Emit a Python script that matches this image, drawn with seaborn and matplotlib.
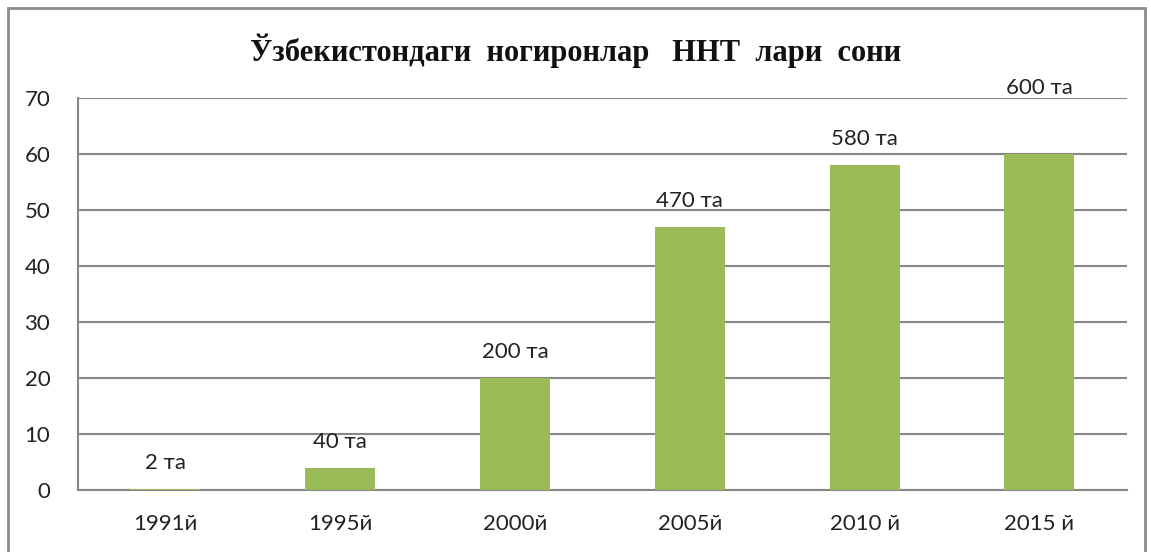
import matplotlib
matplotlib.use("Agg")
import matplotlib.pyplot as plt
import seaborn as sns
import pandas as pd
from matplotlib.patches import Rectangle

years = ["1991й", "1995й", "2000й", "2005й", "2010 й", "2015 й"]
values = [0.2, 4, 20, 47, 58, 60]
labels = ["2 та", "40 та", "200 та", "470 та", "580 та", "600 та"]

df = pd.DataFrame({"year": years, "value": values})

sns.set_theme(style="white")
plt.rcParams["font.family"] = ["Lato", "DejaVu Sans"]

fig = plt.figure(figsize=(11.51, 5.52), dpi=100)
ax = fig.add_axes([0.0678, 0.1123, 0.9112, 0.7102])

sns.barplot(data=df, x="year", y="value", color="#9BBB59", width=0.4,
            saturation=1, linewidth=0, ax=ax, zorder=3)

ax.set_ylim(0, 70)
ax.set_yticks(range(0, 71, 10))
ax.yaxis.grid(True, color="#868686", linewidth=1.5, zorder=0)
ax.set_axisbelow(True)
ax.set_xlabel("")
ax.set_ylabel("")
for s in ["top", "right"]:
    ax.spines[s].set_visible(False)
for s in ["left", "bottom"]:
    ax.spines[s].set_color("#868686")
    ax.spines[s].set_linewidth(1.5)
ax.tick_params(axis="y", length=0, pad=20, labelsize=16, colors="#222222")
ax.tick_params(axis="x", length=0, pad=17, labelsize=16, colors="#222222")

for i, (v, lab) in enumerate(zip(values, labels)):
    y = v + 4.6
    if i == len(values) - 1:
        y = 71.8
    ax.text(i, y, lab, ha="center", va="center", fontsize=16,
            color="#222222", clip_on=False)

fig.text(0.5, 0.908, "Ўзбекистондаги  ногиронлар   ННТ  лари  сони",
         ha="center", va="center", fontsize=22, fontweight="bold",
         family=["Liberation Serif", "DejaVu Serif"], color="#111111")

fig.patches.append(Rectangle((8 / 1151, -0.05), (1145 - 8) / 1151, 1.05 - 8 / 552,
                             transform=fig.transFigure, fill=False,
                             edgecolor="#8c8c8c", linewidth=2))

fig.savefig("out.png", dpi=100)
